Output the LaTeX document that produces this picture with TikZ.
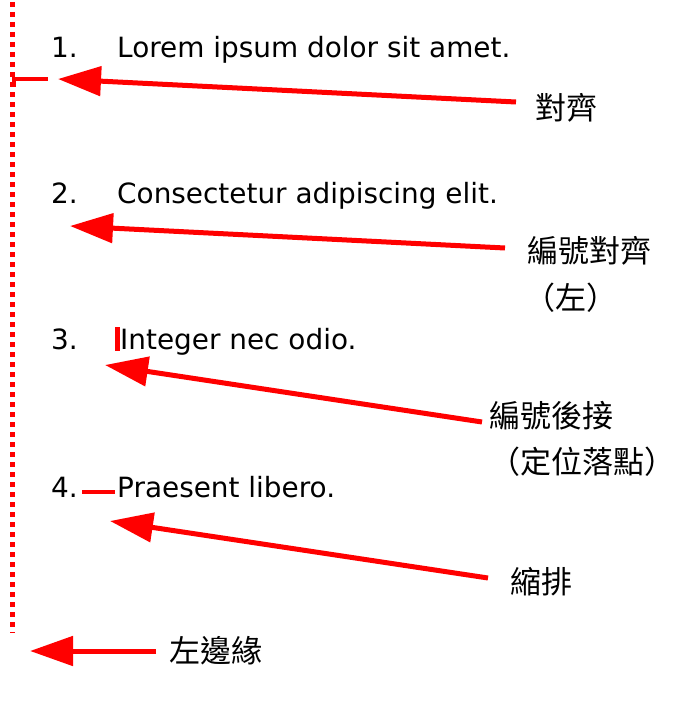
\documentclass[tikz,border=0pt]{standalone}
\usepackage{fontspec}
\setmainfont{DejaVu Sans}
\newfontfamily\cjk{Noto Sans CJK TC}
\usetikzlibrary{arrows.meta}
\tikzset{
  item/.style={anchor=base west, inner sep=0pt, font=\fontsize{27.9}{33}\selectfont},
  lab/.style={inner sep=0pt, font=\cjk\fontsize{31}{36}\selectfont},
  arr/.style={draw=red, line width=5pt, -{Triangle[length=43pt,width=29pt]}},
  redmark/.style={draw=red, line width=4pt},
}
\begin{document}
\begin{tikzpicture}[x=1pt,y=-1pt]
\useasboundingbox[fill=white] (0,0) rectangle (690,717);
% left margin dotted line
\draw[red, line width=5pt, dash pattern=on 5pt off 5pt] (12.5,2) -- (12.5,633);
% list items
\node[item] (n1) at (51,57) {1.};
\node[item] (t1) at (117,57) {Lorem ipsum dolor sit amet.};
\node[item] (n2) at (51,203.5) {2.};
\node[item] (t2) at (117,203.5) {Consectetur adipiscing elit.};
\node[item] (n3) at (51,349) {3.};
\node[item] (t3) at (120,349) {Integer nec odio.};
\node[item] (n4) at (51,497) {4.};
\node[item] (t4) at (117,497) {Praesent libero.};
% red markers
\draw[redmark, line cap=rect] (13.5,85) -- (13.5,79) -- (46,79);
\draw[redmark, line width=5pt] (117.5,327) -- (117.5,351);
\draw[redmark] (82,492) -- (115,492);
% labels
\node[lab] (l1) at (566,108) {對齊};
\node[lab] (l2) at (589,251) {編號對齊};
\node[lab] (l2b) at (571,298) {（左）};
\node[lab] (l3) at (551,416) {編號後接};
\node[lab] (l3b) at (582,462) {（定位落點）};
\node[lab] (l4) at (541,582) {縮排};
\node[lab] (l5) at (216,651) {左邊緣};
% arrow ends
\coordinate (s1) at (516,102);
\coordinate (e1) at (58,79);
\coordinate (s2) at (505,248);
\coordinate (e2) at (70,226);
\coordinate (s3) at (482,422);
\coordinate (e3) at (105,365);
\coordinate (s4) at (488,578);
\coordinate (e4) at (110,521);
\coordinate (s5) at (156,651);
\coordinate (e5) at (30,651);
\draw[arr] (s1) -- (e1);
\draw[arr] (s2) -- (e2);
\draw[arr] (s3) -- (e3);
\draw[arr] (s4) -- (e4);
\draw[arr] (s5) -- (e5);
\end{tikzpicture}
\end{document}
